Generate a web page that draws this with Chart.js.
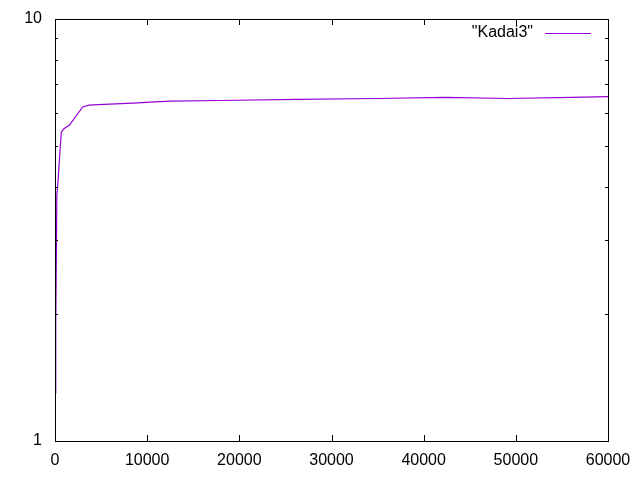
<!DOCTYPE html>
<html>
<head>
<meta charset="utf-8">
<script src="https://cdn.jsdelivr.net/npm/chart.js@4"></script>
<style>
  body { margin: 0; background: #fff; }
  #grafico { display: block; }
</style>
</head>
<body>
<canvas id="grafico" width="640" height="480"></canvas>
<script>
// Datos
const serieNombre = '"Kadai3"';
const xValores = [20, 80, 200, 350, 470, 610, 690, 1000, 1550, 3000, 3700, 4700, 7200, 9000, 10800, 12600, 17800, 26300, 34900, 42400, 49100, 56000, 60000];
const yValores = [1.3, 1.88, 3.82, 4.19, 4.62, 5.11, 5.40, 5.50, 5.60, 6.19, 6.25, 6.27, 6.30, 6.33, 6.36, 6.39, 6.41, 6.45, 6.48, 6.52, 6.48, 6.52, 6.55];
const xTicks = [0, 10000, 20000, 30000, 40000, 50000, 60000];
const yTicks = [1, 10];
const yMenores = [2, 3, 4, 5, 6, 7, 8, 9];

const colorLinea = "#9400d3";
const fuente = "Liberation Sans, Arial, sans-serif";

// Marco, ticks hacia adentro y leyenda estilo gnuplot
const marcoGnuplot = {
    id: "marcoGnuplot",
    afterDraw(chart) {
        const ctx = chart.ctx;
        const area = chart.chartArea;
        const sx = chart.scales.x;
        const sy = chart.scales.y;
        ctx.save();
        ctx.strokeStyle = "#000";
        ctx.lineWidth = 1;
        ctx.strokeRect(area.left + 0.5, area.top + 0.5, area.right - area.left, area.bottom - area.top);

        ctx.beginPath();
        xTicks.forEach(v => {
            const px = Math.round(sx.getPixelForValue(v)) + 0.5;
            ctx.moveTo(px, area.bottom);
            ctx.lineTo(px, area.bottom - 6);
            ctx.moveTo(px, area.top);
            ctx.lineTo(px, area.top + 6);
        });
        yTicks.forEach(v => {
            const py = Math.round(sy.getPixelForValue(v)) + 0.5;
            ctx.moveTo(area.left, py);
            ctx.lineTo(area.left + 6, py);
            ctx.moveTo(area.right, py);
            ctx.lineTo(area.right - 6, py);
        });
        yMenores.forEach(v => {
            const py = Math.round(sy.getPixelForValue(v)) + 0.5;
            ctx.moveTo(area.left, py);
            ctx.lineTo(area.left + 3, py);
            ctx.moveTo(area.right, py);
            ctx.lineTo(area.right - 3, py);
        });
        ctx.stroke();

        // leyenda: texto y luego la muestra de linea
        ctx.font = "16px " + fuente;
        ctx.fillStyle = "#000";
        ctx.textAlign = "right";
        ctx.textBaseline = "middle";
        ctx.fillText(serieNombre, 533, 33);
        ctx.strokeStyle = colorLinea;
        ctx.beginPath();
        ctx.moveTo(545, 33.5);
        ctx.lineTo(591, 33.5);
        ctx.stroke();
        ctx.restore();
    }
};

const ctx = document.getElementById("grafico").getContext("2d");
new Chart(ctx, {
    type: "line",
    data: {
        datasets: [{
            label: serieNombre,
            data: xValores.map((x, i) => ({ x: x, y: yValores[i] })),
            borderColor: colorLinea,
            borderWidth: 1.2,
            pointRadius: 0,
            fill: false,
            tension: 0
        }]
    },
    options: {
        responsive: false,
        animation: false,
        layout: { padding: { left: 0, right: 32, top: 19, bottom: 0 } },
        plugins: {
            legend: { display: false },
            tooltip: { enabled: false }
        },
        scales: {
            x: {
                type: "linear",
                min: 0,
                max: 60000,
                grid: { display: false, drawTicks: false },
                border: { display: false },
                afterBuildTicks: s => { s.ticks = xTicks.map(v => ({ value: v })); },
                afterFit: s => { s.height = 39; s.paddingLeft = 0; s.paddingRight = 0; },
                ticks: {
                    maxRotation: 0,
                    autoSkip: false,
                    padding: 10,
                    color: "#000",
                    font: { family: fuente, size: 16 },
                    callback: v => String(v)
                }
            },
            y: {
                type: "logarithmic",
                min: 1,
                max: 10,
                grid: { display: false, drawTicks: false },
                border: { display: false },
                afterBuildTicks: s => { s.ticks = yTicks.map(v => ({ value: v })); },
                afterFit: s => { s.width = 55; s.paddingTop = 0; s.paddingBottom = 0; },
                ticks: {
                    autoSkip: false,
                    padding: 13,
                    color: "#000",
                    font: { family: fuente, size: 16 },
                    callback: v => String(v)
                }
            }
        }
    },
    plugins: [marcoGnuplot]
});
</script>
</body>
</html>
